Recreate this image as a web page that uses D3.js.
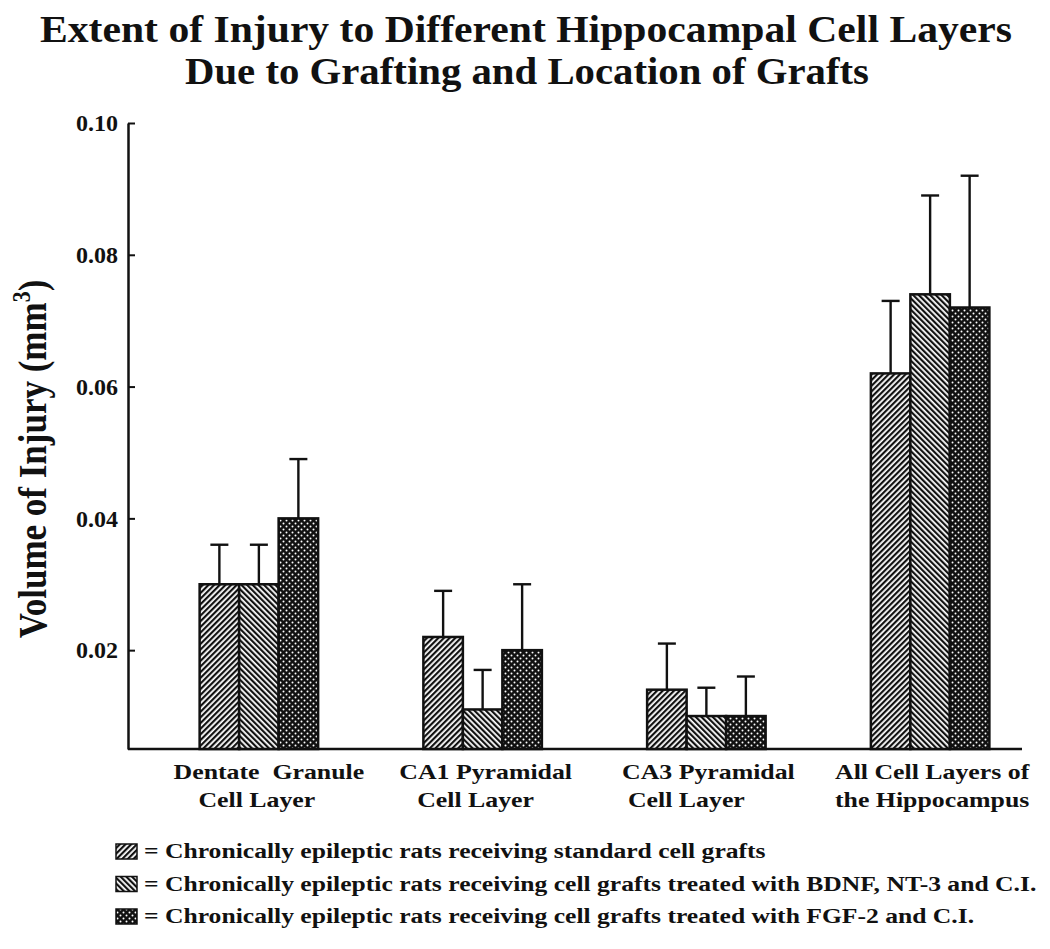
<!DOCTYPE html>
<html>
<head>
<meta charset="utf-8">
<script src="https://cdn.jsdelivr.net/npm/d3@7"></script>
<style>
    body { margin: 0; background: #fff; }
    text { font-family: "Liberation Serif", "Times New Roman", serif; font-weight: bold; fill: #111; white-space: pre; }
</style>
</head>
<body>
<div id="chart-area" style="width:1050px;height:949px;"></div>
<script>

// category labels (two lines each)
const categories = ["Dentate  Granule|Cell Layer", "CA1 Pyramidal|Cell Layer", "CA3 Pyramidal|Cell Layer", "All Cell Layers of|the Hippocampus"];

// series means (mm^3)
const standardGrafts = [0.030, 0.022, 0.014, 0.062];
const bdnfGrafts = [0.030, 0.011, 0.010, 0.074];
const fgfGrafts = [0.040, 0.020, 0.010, 0.072];

// upper error bars
const standardErr = [0.006, 0.007, 0.007, 0.011];
const bdnfErr = [0.006, 0.006, 0.0043, 0.015];
const fgfErr = [0.009, 0.010, 0.006, 0.020];

const seriesLabels = [
    "= Chronically epileptic rats receiving standard cell grafts",
    "= Chronically epileptic rats receiving cell grafts treated with BDNF, NT-3 and C.I.",
    "= Chronically epileptic rats receiving cell grafts treated with FGF-2 and C.I."
];

const yTicks = [0.02, 0.04, 0.06, 0.08, 0.10];

// small horizontal nudges of each label line, as in the original figure (px)
const labelNudge = [[10, -2], [3, -7], [2, -20], [2, 2]];

class injuryChart {

    constructor(parentElement) {
        this.parentElement = parentElement;
        this.initVis();
    }

    initVis() {
        let vis = this;

        vis.width = 1050;
        vis.height = 949;

        vis.svg = d3.select("#" + vis.parentElement).append("svg")
            .attr("width", vis.width)
            .attr("height", vis.height);

        // fill patterns
        let defs = vis.svg.append("defs");

        function stripes(id, angle) {
            let p = defs.append("pattern")
                .attr("id", id)
                .attr("patternUnits", "userSpaceOnUse")
                .attr("width", 4)
                .attr("height", 4)
                .attr("patternTransform", `rotate(${angle})`);
            p.append("rect").attr("width", 4).attr("height", 4).attr("fill", "#fff");
            p.append("rect").attr("width", 2.2).attr("height", 4).attr("fill", "#111");
        }
        stripes("pat0", 45);
        stripes("pat1", -45);

        let dots = defs.append("pattern")
            .attr("id", "pat2")
            .attr("patternUnits", "userSpaceOnUse")
            .attr("width", 6)
            .attr("height", 6);
        dots.append("rect").attr("width", 6).attr("height", 6).attr("fill", "#111");
        [[1.5, 1.5], [4.5, 4.5]].forEach(c => {
            dots.append("circle").attr("cx", c[0]).attr("cy", c[1]).attr("r", 1).attr("fill", "#fff");
        });

        // scales
        vis.x0 = d3.scaleBand()
            .domain(categories)
            .range([147, 1042]);

        vis.x1 = d3.scaleBand()
            .domain([0, 1, 2])
            .range([0, 118.5]);

        vis.y = d3.scaleLinear()
            .domain([0.005, 0.10])
            .range([749, 123]);

        // title
        let title = vis.svg.append("g").attr("class", "title");
        title.append("text")
            .attr("x", 526).attr("y", 42)
            .attr("text-anchor", "middle")
            .attr("font-size", 38)
            .attr("textLength", 972)
            .attr("lengthAdjust", "spacingAndGlyphs")
            .text("Extent of Injury to Different Hippocampal Cell Layers");
        title.append("text")
            .attr("x", 527).attr("y", 84)
            .attr("text-anchor", "middle")
            .attr("font-size", 38)
            .attr("textLength", 684)
            .attr("lengthAdjust", "spacingAndGlyphs")
            .text("Due to Grafting and Location of Grafts");

        // y axis
        vis.yAxis = d3.axisLeft(vis.y)
            .tickValues(yTicks)
            .tickFormat(d3.format(".2f"))
            .tickSizeInner(-7)
            .tickSizeOuter(0)
            .tickPadding(10);

        let yg = vis.svg.append("g")
            .attr("class", "y-axis")
            .attr("transform", "translate(128,0)")
            .call(vis.yAxis);
        yg.select(".domain").attr("stroke", "#111").attr("stroke-width", 2.5);
        yg.selectAll(".tick line").attr("stroke", "#111").attr("stroke-width", 2);
        yg.selectAll(".tick text")
            .attr("font-size", 24)
            .attr("font-family", "Liberation Serif")
            .attr("font-weight", "bold")
            .attr("fill", "#111");

        // y label
        let yl = vis.svg.append("text")
            .attr("transform", "translate(46,459) rotate(-90) scale(1,1.15)")
            .attr("text-anchor", "middle")
            .attr("font-size", 35);
        yl.append("tspan").text("Volume of Injury (mm");
        yl.append("tspan").attr("font-size", 22).attr("dy", -14).text("3");
        yl.append("tspan").attr("dy", 14).text(")");

        // x baseline
        vis.svg.append("line")
            .attr("x1", 128).attr("x2", 1022)
            .attr("y1", vis.y(0.005)).attr("y2", vis.y(0.005))
            .attr("stroke", "#111")
            .attr("stroke-width", 2.5);

        // category labels
        vis.svg.selectAll(".x-label")
            .data(categories)
            .join("text")
            .attr("class", "x-label")
            .attr("text-anchor", "middle")
            .attr("font-size", 21)
            .attr("transform", d => `translate(${vis.x0(d) + vis.x0.bandwidth() / 2}, 779) scale(1.23,1)`)
            .selectAll("tspan")
            .data((d, ci) => d.split("|").map((t, li) => ({text: t, nudge: labelNudge[ci][li]})))
            .join("tspan")
            .attr("x", d => d.nudge / 1.23)
            .attr("dy", (d, i) => i === 0 ? 0 : 28)
            .text(d => d.text);

        // legend
        let legend = vis.svg.selectAll(".legend")
            .data(seriesLabels)
            .join("g")
            .attr("class", "legend")
            .attr("transform", (d, i) => `translate(116, ${858 + i * 32.5})`);
        legend.append("rect")
            .attr("y", -14)
            .attr("width", 21).attr("height", 15)
            .attr("fill", (d, i) => `url(#pat${i})`)
            .attr("stroke", "#111")
            .attr("stroke-width", 1.5);
        legend.append("text")
            .attr("transform", "translate(28,0) scale(1.22,1)")
            .attr("font-size", 21)
            .text(d => d);

        this.wrangleData();
    }

    wrangleData() {
        let vis = this;

        let means = [standardGrafts, bdnfGrafts, fgfGrafts];
        let errs = [standardErr, bdnfErr, fgfErr];

        vis.displayData = [];
        categories.forEach((c, ci) => {
            means.forEach((m, si) => {
                vis.displayData.push({category: c, series: si, value: m[ci], err: errs[si][ci]});
            });
        });

        this.updateVis();
    }

    updateVis() {
        let vis = this;
        let offset = vis.x0.bandwidth() / 2 - 59.25;
        let bx = d => vis.x0(d.category) + offset + vis.x1(d.series);
        let cx = d => bx(d) + vis.x1.bandwidth() / 2;

        // error bars (drawn first so bars sit on top)
        let err = vis.svg.selectAll(".err")
            .data(vis.displayData)
            .join("g")
            .attr("class", "err")
            .attr("stroke", "#111")
            .attr("stroke-width", 2.4);
        err.append("line")
            .attr("x1", cx).attr("x2", cx)
            .attr("y1", d => vis.y(d.value))
            .attr("y2", d => vis.y(d.value + d.err));
        err.append("line")
            .attr("x1", d => cx(d) - 9).attr("x2", d => cx(d) + 9)
            .attr("y1", d => vis.y(d.value + d.err))
            .attr("y2", d => vis.y(d.value + d.err));

        vis.svg.selectAll(".bar")
            .data(vis.displayData)
            .join("rect")
            .attr("class", "bar")
            .attr("x", bx)
            .attr("width", vis.x1.bandwidth())
            .attr("y", d => vis.y(d.value))
            .attr("height", d => vis.y(0.005) - vis.y(d.value))
            .attr("fill", d => `url(#pat${d.series})`)
            .attr("stroke", "#111")
            .attr("stroke-width", 2.5);
    }
}

new injuryChart("chart-area");
</script>
</body>
</html>
